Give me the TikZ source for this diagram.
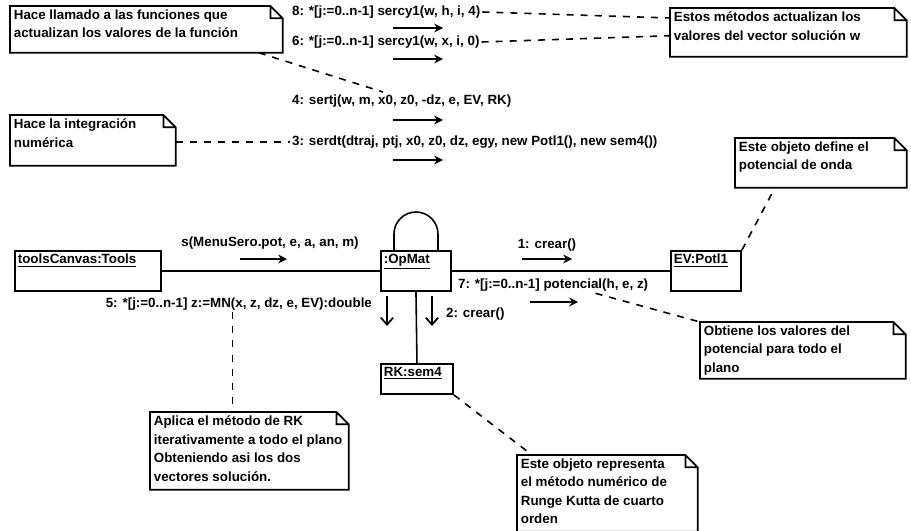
\documentclass[tikz,border=0pt]{standalone}
\usepackage{fontspec}
\setmainfont{Liberation Sans}
\usetikzlibrary{arrows.meta}

\newcommand{\notetxt}[3]{\parbox[c][#2][t]{#1}{\raggedright #3}}

\tikzset{
  obj/.style={draw, line width=1.1pt, anchor=north west, inner sep=0pt},
  note/.style={anchor=north west, inner sep=2pt},
  noteline/.style={line width=1pt},
  link/.style={line width=0.9pt},
  notelink/.style={line width=0.9pt, dash pattern=on 4pt off 4pt},
  flow/.style={-{Stealth[length=5pt,width=5pt]}, line width=1pt},
  downflow/.style={-{Straight Barb[length=4pt,width=7pt]}, line width=1pt},
}

\begin{document}
\begin{tikzpicture}[x=0.02cm, y=-0.02cm, every node/.style={font=\bfseries\fontsize{7.6}{10.5}\selectfont}]
\useasboundingbox (0,0) rectangle (911,530);

%notas
\node[note] (nFunc) at (10,6) {\notetxt{5.3cm}{0.78cm}{Hace llamado a las funciones que\\actualizan los valores de la función}};
\node[note] (nVec) at (670,8) {\notetxt{4.58cm}{0.82cm}{Estos métodos actualizan los\\valores del vector solución w}};
\node[note] (nInt) at (10,115) {\notetxt{3.16cm}{0.86cm}{Hace la integración\\numérica}};
\node[note] (nEV) at (735,138) {\notetxt{3.28cm}{0.84cm}{Este objeto define el\\potencial de onda}};
\node[note] (nObt) at (700,322) {\notetxt{3.96cm}{0.98cm}{Obtiene los valores del\\potencial para todo el\\plano}};
\node[note] (nApl) at (150,412) {\notetxt{3.82cm}{1.4cm}{Aplica el método de RK\\iterativamente a todo el plano\\Obteniendo asi los dos\\vectores solución.}};
\node[note] (nRK) at (517,455) {\notetxt{3.46cm}{1.38cm}{Este objeto representa\\el método numérico de\\Runge Kutta de cuarto\\orden}};

\foreach \n in {nFunc,nVec,nInt,nEV,nObt,nApl,nRK}
  \draw[noteline] (\n.north west) -- ([xshift=-7pt]\n.north east) -- ([yshift=-7pt]\n.north east)
    -- (\n.south east) -- (\n.south west) -- cycle
    ([xshift=-7pt]\n.north east) |- ([yshift=-7pt]\n.north east);

%objetos
\node[obj, minimum width=2.92cm, minimum height=0.8cm,
  label={[anchor=north west, inner sep=2pt]north west:\underline{toolsCanvas:Tools}}] (oTools) at (14,250) {};
\node[obj, minimum width=1.4cm, minimum height=0.8cm,
  label={[anchor=north west, inner sep=2pt]north west:\underline{:OpMat}}] (oOp) at (380,250) {};
\node[obj, minimum width=1.4cm, minimum height=0.8cm,
  label={[anchor=north west, inner sep=2pt]north west:\underline{EV:Potl1}}] (oEV) at (670,250) {};
\node[obj, minimum width=1.44cm, minimum height=0.6cm,
  label={[anchor=north west, inner sep=2pt]north west:\underline{RK:sem4}}] (oRK) at (380,363) {};

%enlaces
\draw[link] (oTools.east) -- (oOp.west);
\draw[link] (oOp.east) -- (oEV.west);
\draw[link] (oOp.south) -- (oRK.north);
\draw[link] ([xshift=-0.44cm]oOp.north) -- ++(0,0.32cm) arc[start angle=180, end angle=0, radius=0.44cm] -- ++(0,-0.32cm);

%mensajes
\node[anchor=west, inner sep=1pt] (m8) at (290,12) {8: *[j:=0..n-1] sercy1(w, h, i, 4)};
\draw[flow] (393,28) -- (443,28);
\node[anchor=west, inner sep=1pt] (m6) at (290,42) {6: *[j:=0..n-1] sercy1(w, x, i, 0)};
\draw[flow] (393,59) -- (443,59);
\node[anchor=west, inner sep=1pt] (m4) at (290,101) {4: sertj(w, m, x0, z0, -dz, e, EV, RK)};
\draw[flow] (393,120) -- (443,120);
\node[anchor=west, inner sep=1pt] (m3) at (290,142) {3: serdt(dtraj, ptj, x0, z0, dz, egy, new Potl1(), new sem4())};
\draw[flow] (393,160) -- (443,160);

\node[inner sep=1pt] (mS) at (270,243) {s(MenuSero.pot, e, a, an, m)};
\draw[flow] (240,259) -- (287,259);
\node[inner sep=1pt] (m1) at (547,245) {1: crear()};
\draw[flow] (522,259) -- (572,259);
\node[anchor=west, inner sep=1pt] (m7) at (456,285) {7: *[j:=0..n-1] potencial(h, e, z)};
\draw[flow] (530,302) -- (578,302);
\node[anchor=east, inner sep=1pt] (m5) at (374,304) {5: *[j:=0..n-1] z:=MN(x, z, dz, e, EV):double};
\draw[downflow] (387,296) -- (387,326);
\node[anchor=west, inner sep=1pt] (m2) at (444,314) {2: crear()};
\draw[downflow] (432,296) -- (432,326);

%lineas de notas
\coordinate (cFunc) at (383,92);
\draw[notelink] ([xshift=-0.48cm]nFunc.south east) -- (cFunc);
\draw[notelink] (m8.east) -- ([yshift=-0.2cm]nVec.north west);
\draw[notelink] (m6.east) -- ([yshift=0.42cm]nVec.south west);
\draw[notelink] (nInt.east |- m3.west) -- (m3.west);
\draw[notelink] (oEV.north east) -- ([xshift=0.8cm]nEV.south west);
\draw[notelink] ([xshift=0.85cm]m7.south) -- (nObt.north west);
\draw[notelink] ([xshift=-0.34cm]nApl.north |- m5.south) -- ([xshift=-0.34cm]nApl.north);
\draw[notelink] (oRK.south east) -- ([xshift=0.3cm]nRK.north west);

\end{tikzpicture}
\end{document}
